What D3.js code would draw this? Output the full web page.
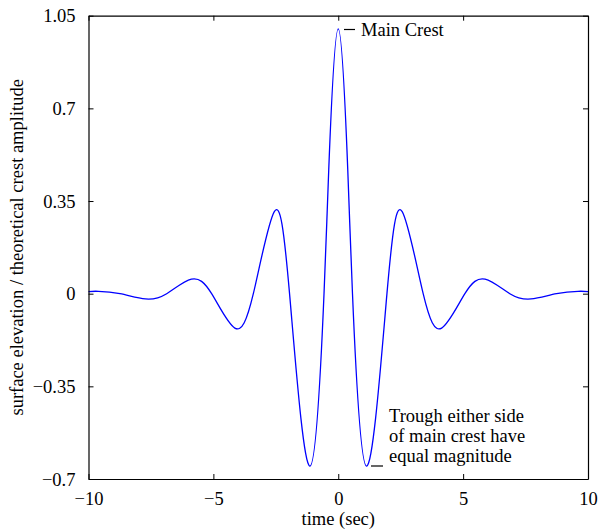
<!DOCTYPE html>
<html>
<head>
<meta charset="utf-8">
<script src="https://cdn.jsdelivr.net/npm/d3@7"></script>
<style>
  html, body { margin: 0; padding: 0; background: #fff; }
  svg { display: block; }
  text { font-family: "Liberation Serif", "Times New Roman", serif; fill: #000; }
</style>
</head>
<body>
<svg id="chart" width="598" height="532"></svg>
<script>
// ---- data (extrema and zero crossings) ----
const timeSec = [
  -10, -9.6, -8.74, -7.72, -6.87, -5.88, -5.07, -4.14, -3.40, -2.56, -1.95,
  -1.13, -0.57, -0.38, 0, 0.38, 0.57, 1.13,
  1.95, 2.56, 3.40, 4.14, 5.07, 5.88, 6.87, 7.72, 8.74, 9.6, 10
];
const elevation = [
  0.008, 0.009, 0, -0.020, 0, 0.055, 0, -0.130, 0, 0.310, 0,
  -0.651, 0, 0.47, 1.0, 0.47, 0, -0.651,
  0, 0.310, 0, -0.130, 0, 0.055, 0, -0.020, 0, 0.009, 0.008
];
const xTicks = [-10, -5, 0, 5, 10];
const yTicks = [-0.7, -0.35, 0, 0.35, 0.7, 1.05];
const xLabel = "time (sec)";
const yLabel = "surface elevation / theoretical crest amplitude";
const crestNote = "Main Crest";
const troughNote = ["Trough either side", "of main crest have", "equal magnitude"];

// ---- layout ----
const svg = d3.select("#chart");
const L = 88.5, R = 588, T = 15.7, B = 479;
const x = d3.scaleLinear().domain([-10, 10]).range([L, R]);
const y = d3.scaleLinear().domain([-0.7, 1.05]).range([B, T]);
const fmt = v => (v < 0 ? "\u2212" : "") + String(Math.abs(v));
const fs = 18.5;

// curve
const pts = timeSec.map((t, i) => [t, elevation[i]]);
const lineGen = d3.line().x(d => x(d[0])).y(d => y(d[1])).curve(d3.curveNatural);
svg.append("path")
  .attr("fill", "none")
  .attr("stroke", "#0000ff")
  .attr("stroke-width", 1.3)
  .attr("d", lineGen(pts));

// axes (box with inward ticks on all sides)
const gBottom = svg.append("g").attr("transform", `translate(0,${B})`)
  .call(d3.axisBottom(x).tickValues(xTicks).tickSizeInner(-5).tickSizeOuter(0).tickPadding(13).tickFormat(fmt));
const gTop = svg.append("g").attr("transform", `translate(0,${T})`)
  .call(d3.axisTop(x).tickValues(xTicks).tickSizeInner(-5).tickSizeOuter(0).tickFormat(""));
const gLeft = svg.append("g").attr("transform", `translate(${L},0)`)
  .call(d3.axisLeft(y).tickValues(yTicks).tickSizeInner(-5).tickSizeOuter(0).tickPadding(13).tickFormat(fmt));
const gRight = svg.append("g").attr("transform", `translate(${R},0)`)
  .call(d3.axisRight(y).tickValues(yTicks).tickSizeInner(-5).tickSizeOuter(0).tickFormat(""));

[gBottom, gTop, gLeft, gRight].forEach(g => {
  g.select(".domain").attr("stroke", "#000").attr("stroke-width", 1.2);
  g.selectAll(".tick line").attr("stroke", "#000").attr("stroke-width", 1);
  g.selectAll("text").attr("font-family", "Liberation Serif, Times New Roman, serif")
    .attr("font-size", fs).attr("fill", "#000");
});
gBottom.selectAll("text").attr("dy", "0.71em");
gLeft.selectAll("text").attr("dy", "0.34em");

// axis labels
svg.append("text").attr("x", (L + R) / 2).attr("y", 525)
  .attr("text-anchor", "middle").attr("font-size", fs).text(xLabel);
svg.append("text")
  .attr("transform", `translate(23,${(T + B) / 2}) rotate(-90)`)
  .attr("text-anchor", "middle").attr("font-size", fs).text(yLabel);

// annotations
svg.append("line").attr("x1", 344).attr("x2", 355).attr("y1", 29.5).attr("y2", 29.5)
  .attr("stroke", "#000").attr("stroke-width", 1.2);
svg.append("text").attr("x", 361).attr("y", 36).attr("font-size", fs).text(crestNote);

svg.append("line").attr("x1", 371).attr("x2", 383).attr("y1", 466).attr("y2", 466)
  .attr("stroke", "#000").attr("stroke-width", 1.2);
troughNote.forEach((s, i) => {
  svg.append("text").attr("x", 389).attr("y", 422 + i * 20).attr("font-size", fs).text(s);
});
</script>
</body>
</html>
